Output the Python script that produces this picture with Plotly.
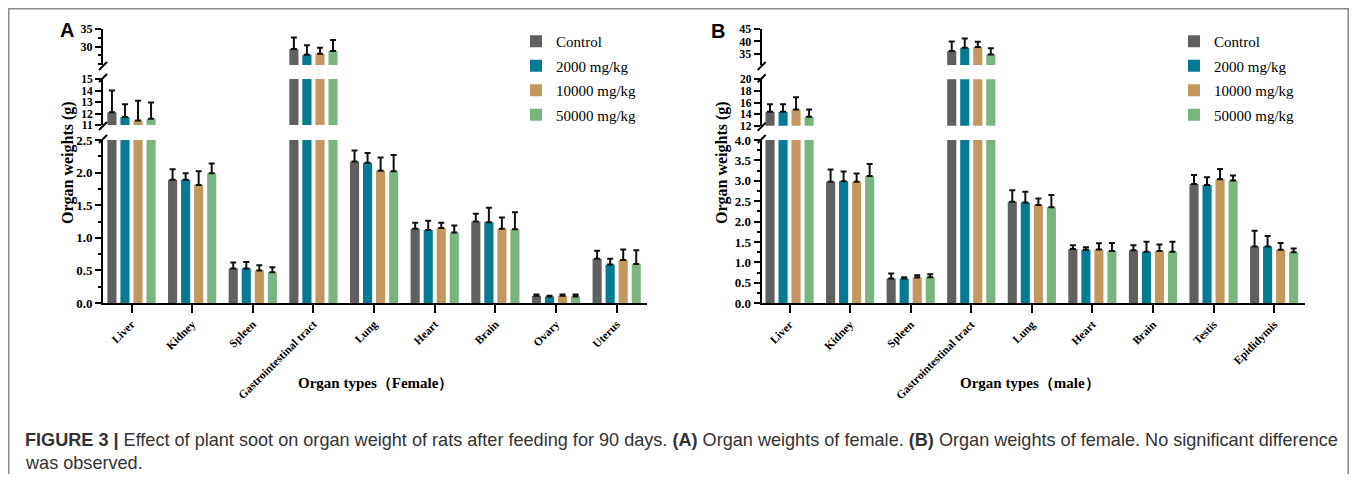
import plotly.graph_objects as go

# Page is 1357x482; the browser body keeps its default 8px margin,
# so the figure is 16px smaller and reference pixel p maps to p-8.
PAGE_W, PAGE_H = 1357, 482
OFF = 8
W, H = PAGE_W - 2 * OFF, PAGE_H - 2 * OFF


def fx(p):
    return (p - OFF) / W


def fy(p):
    return 1 - (p - OFF) / H


# ---------------- data ----------------
series_names = ["Control", "2000 mg/kg", "10000 mg/kg", "50000 mg/kg"]
colors = ["#606060", "#047a93", "#c4975f", "#7ab57f"]

female_organs = ["Liver", "Kidney", "Spleen", "Gastrointestinal tract", "Lung",
                 "Heart", "Brain", "Ovary", "Uterus"]
female_control = [12.1, 1.89, 0.53, 29.3, 2.17, 1.14, 1.25, 0.11, 0.68]
female_control_sd = [1.9, 0.16, 0.09, 3.3, 0.17, 0.09, 0.12, 0.02, 0.12]
female_2000 = [11.7, 1.89, 0.53, 27.7, 2.15, 1.12, 1.24, 0.10, 0.59]
female_2000_sd = [1.1, 0.10, 0.10, 2.7, 0.15, 0.14, 0.22, 0.01, 0.09]
female_10000 = [11.4, 1.81, 0.50, 28.0, 2.03, 1.15, 1.14, 0.11, 0.66]
female_10000_sd = [1.7, 0.21, 0.08, 1.7, 0.20, 0.08, 0.17, 0.02, 0.16]
female_50000 = [11.55, 1.99, 0.47, 28.8, 2.02, 1.08, 1.13, 0.10, 0.60]
female_50000_sd = [1.4, 0.15, 0.08, 3.1, 0.25, 0.11, 0.26, 0.03, 0.21]

male_organs = ["Liver", "Kidney", "Spleen", "Gastrointestinal tract", "Lung",
               "Heart", "Brain", "Testis", "Epididymis"]
male_control = [14.4, 2.98, 0.61, 36.1, 2.49, 1.33, 1.30, 2.92, 1.39]
male_control_sd = [1.3, 0.30, 0.12, 3.9, 0.28, 0.09, 0.12, 0.22, 0.39]
male_2000 = [14.4, 2.99, 0.61, 37.4, 2.47, 1.31, 1.26, 2.90, 1.39]
male_2000_sd = [1.3, 0.24, 0.03, 3.8, 0.26, 0.06, 0.25, 0.19, 0.26]
male_10000 = [14.8, 2.98, 0.63, 37.8, 2.41, 1.32, 1.28, 3.04, 1.31]
male_10000_sd = [2.1, 0.20, 0.06, 2.1, 0.16, 0.15, 0.16, 0.25, 0.17]
male_50000 = [13.55, 3.12, 0.64, 34.7, 2.35, 1.28, 1.26, 3.01, 1.25]
male_50000_sd = [1.25, 0.29, 0.07, 2.5, 0.30, 0.20, 0.25, 0.12, 0.09]

# y tick values of the broken-axis segments
female_ticks_low = [0, 0.5, 1.0, 1.5, 2.0, 2.5]
female_ticks_mid = [11, 12, 13, 14, 15]
female_ticks_top = [30, 35]
male_ticks_low = [0, 0.5, 1.0, 1.5, 2.0, 2.5, 3.0, 3.5, 4.0]
male_ticks_mid = [12, 14, 16, 18, 20]
male_ticks_top = [35, 40, 45]

# ---------------- layout config ----------------
SERIF = "Liberation Serif"
panels = [
    dict(letter="A", organs=female_organs,
         means=[female_control, female_2000, female_10000, female_50000],
         sds=[female_control_sd, female_2000_sd, female_10000_sd, female_50000_sd],
         xaxis="x", xkey="xaxis", ykeys=["y", "y2", "y3"],
         xdom=(103, 647), xrange=[-0.47, 8.5], legend="legend", legx=516,
         xtitle="Organ types（Female）", xtitle_pos=(375, 383),
         ytitle_pos=(68, 163), letter_pos=(67, 30),
         segs=[dict(range=[0, 2.5], top=140, bot=303, ticks=female_ticks_low, fmt=".1f", minor=0.25),
               dict(range=[11, 15], top=79, bot=125, ticks=female_ticks_mid, fmt="d", minor=None),
               dict(range=[24.8, 35], top=29, bot=65, ticks=female_ticks_top, fmt="d", minor=2.5)]),
    dict(letter="B", organs=male_organs,
         means=[male_control, male_2000, male_10000, male_50000],
         sds=[male_control_sd, male_2000_sd, male_10000_sd, male_50000_sd],
         xaxis="x2", xkey="xaxis2", ykeys=["y4", "y5", "y6"],
         xdom=(761.7, 1305), xrange=[-0.46, 8.51], legend="legend2", legx=1174,
         xtitle="Organ types（male）", xtitle_pos=(1030, 383),
         ytitle_pos=(722, 163), letter_pos=(718, 31),
         segs=[dict(range=[0, 4.0], top=140, bot=303.3, ticks=male_ticks_low, fmt=".1f", minor=0.25),
               dict(range=[12, 20], top=79.3, bot=125.7, ticks=male_ticks_mid, fmt="d", minor=None),
               dict(range=[30.5, 45], top=29, bot=65, ticks=male_ticks_top, fmt="d", minor=None)]),
]

fig = go.Figure()
layout = {}
shapes = []
annotations = []

for p in panels:
    for si, (seg, yk) in enumerate(zip(p["segs"], p["ykeys"])):
        for i, name in enumerate(series_names):
            fig.add_trace(go.Bar(
                x=p["organs"], y=p["means"][i], name=name,
                marker=dict(color=colors[i], line=dict(width=0)),
                error_y=dict(type="data", array=p["sds"][i],
                             arrayminus=[0] * len(p["sds"][i]), symmetric=False,
                             color="#111111", thickness=2, width=3),
                xaxis=p["xaxis"], yaxis=yk,
                showlegend=(si == 0), legend=p["legend"],
                legendgroup=p["letter"] + str(i),
            ))
        ykey = "yaxis" + yk[1:]
        ax = dict(
            domain=[fy(seg["bot"]), fy(seg["top"])], range=seg["range"],
            anchor=p["xaxis"], showline=True, linewidth=2, linecolor="black",
            ticks="outside", ticklen=6, tickwidth=2, tickcolor="black",
            tickmode="array", tickvals=seg["ticks"],
            ticktext=[format(v, seg["fmt"]) if seg["fmt"] != "d" else str(int(v)) for v in seg["ticks"]],
            showgrid=False, zeroline=False, automargin=False,
            tickfont=dict(family=SERIF, size=13 if si == 0 else (11.5 if si == 1 else 12),
                          color="black", weight="bold"),
        )
        if seg["minor"]:
            ax["minor"] = dict(dtick=seg["minor"], tick0=0, ticks="outside", ticklen=3,
                               tickwidth=1.5, tickcolor="black", showgrid=False)
        layout[ykey] = ax
        # break marks on axis
        axx = p["xdom"][0]
        if si > 0:
            yb = seg["bot"]
            shapes.append(dict(type="line", xref="paper", yref="paper",
                               x0=fx(axx - 4), y0=fy(yb + 5), x1=fx(axx + 4), y1=fy(yb - 3),
                               line=dict(color="black", width=2)))
        if si < 2:
            yt = seg["top"]
            shapes.append(dict(type="line", xref="paper", yref="paper",
                               x0=fx(axx - 4), y0=fy(yt + 3), x1=fx(axx + 4), y1=fy(yt - 5),
                               line=dict(color="black", width=2)))

    layout[p["xkey"]] = dict(
        domain=[fx(p["xdom"][0]), fx(p["xdom"][1])], range=p["xrange"],
        anchor=p["ykeys"][0], type="category", automargin=False,
        showline=True, linewidth=2, linecolor="black",
        ticks="outside", ticklen=8, tickwidth=2, tickcolor="black",
        tickangle=-45, showgrid=False,
        tickfont=dict(family=SERIF, size=11.5, color="black", weight="bold"),
    )
    annotations.append(dict(text="<b>" + p["xtitle"] + "</b>", xref="paper", yref="paper",
                            x=fx(p["xtitle_pos"][0]), y=fy(p["xtitle_pos"][1]),
                            showarrow=False, xanchor="center", yanchor="middle",
                            font=dict(family=SERIF, size=15, color="black")))
    annotations.append(dict(text="<b>Organ weights (g)</b>", xref="paper", yref="paper",
                            x=fx(p["ytitle_pos"][0]), y=fy(p["ytitle_pos"][1]),
                            textangle=-90, showarrow=False, xanchor="center", yanchor="middle",
                            font=dict(family=SERIF, size=16, color="black")))
    annotations.append(dict(text="<b>" + p["letter"] + "</b>", xref="paper", yref="paper",
                            x=fx(p["letter_pos"][0]), y=fy(p["letter_pos"][1]),
                            showarrow=False, xanchor="center", yanchor="middle",
                            font=dict(family="Liberation Sans", size=20, color="black")))

caption1 = ("<b>FIGURE 3 |</b> Effect of plant soot on organ weight of rats after feeding for 90 days. "
            "<b>(A)</b> Organ weights of female. <b>(B)</b> Organ weights of female. No significant difference")
caption2 = "was observed."
annotations.append(dict(text=caption1, xref="paper", yref="paper", x=fx(23), y=fy(440),
                        showarrow=False, xanchor="left", yanchor="middle",
                        font=dict(family="Liberation Sans", size=18.1, color="#333333")))
annotations.append(dict(text=caption2, xref="paper", yref="paper", x=fx(23), y=fy(463),
                        showarrow=False, xanchor="left", yanchor="middle",
                        font=dict(family="Liberation Sans", size=18.1, color="#333333")))

shapes.append(dict(type="rect", xref="paper", yref="paper",
                   x0=fx(OFF + 0.8), x1=fx(PAGE_W - OFF - 0.8), y0=fy(520), y1=fy(OFF + 0.8),
                   line=dict(color="#8a8a8a", width=1.5), fillcolor="rgba(0,0,0,0)"))

legend_common = dict(xanchor="left", yanchor="top", bgcolor="rgba(0,0,0,0)",
                     font=dict(family=SERIF, size=15, color="black"),
                     tracegroupgap=2, traceorder="grouped")

fig.update_layout(
    width=W, height=H, autosize=False,
    margin=dict(l=0, r=0, t=0, b=0, pad=0, autoexpand=False),
    paper_bgcolor="white", plot_bgcolor="white",
    barmode="group", bargap=0.14, bargroupgap=0.3,
    legend=dict(x=fx(panels[0]["legx"]), y=fy(25), **legend_common),
    legend2=dict(x=fx(panels[1]["legx"]), y=fy(25), **legend_common),
    shapes=shapes, annotations=annotations,
    **layout,
)

fig.write_html("out.html", config={"displayModeBar": False})
